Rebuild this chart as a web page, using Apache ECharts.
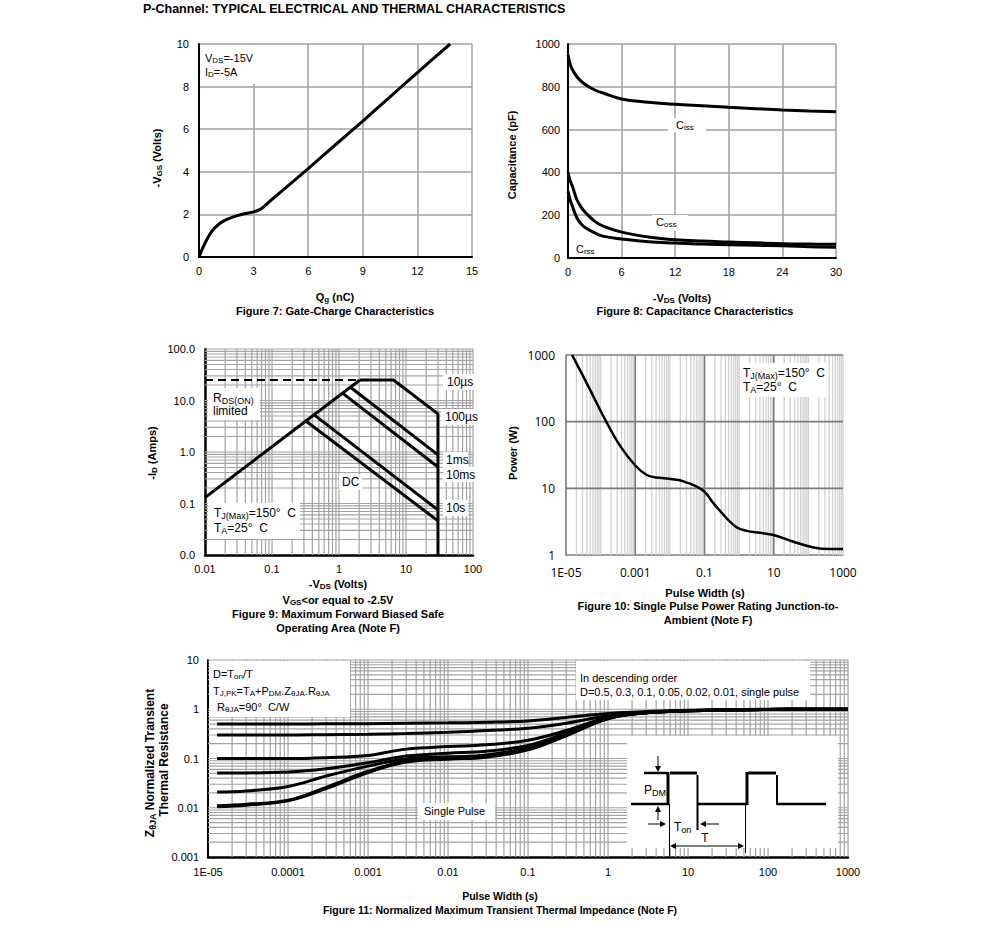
<!DOCTYPE html>
<html><head><meta charset="utf-8">
<script src="https://cdn.jsdelivr.net/npm/echarts@6/dist/echarts.min.js"></script>
<style>html,body{margin:0;padding:0;background:#fff}#c{width:991px;height:938px}</style>
</head><body><div id="c"></div>
<script>
// ---------------- DATA ----------------
// Figure 7: Gate charge
const fig7Qg  = [0, 0.3, 0.7, 1.1, 1.5, 2.0, 2.5, 3.0, 3.4, 4.0, 5.0, 6.0, 7.5, 9.0, 10.5, 12.0, 13.8];
const fig7Vgs = [0, 0.6, 1.2, 1.55, 1.75, 1.92, 2.03, 2.12, 2.25, 2.7, 3.42, 4.15, 5.27, 6.38, 7.52, 8.66, 10];
// Figure 8: Capacitance
const fig8Vds  = [0, 0.25, 0.5, 1, 1.5, 2, 3, 4, 6, 9, 12, 15, 18, 21, 24, 27, 30];
const fig8Ciss = [950, 905, 880, 847, 825, 809, 785, 770, 743, 728, 718, 711, 704, 698, 692, 687, 683];
const fig8Coss = [400, 360, 334, 272, 235, 210, 171, 148, 121, 98, 85, 79, 75, 71, 67, 65, 64];
const fig8Crss = [311, 270, 241, 187, 158, 140, 117, 101, 89, 76, 70, 65, 62, 59, 57, 53, 50];
// Figure 9: Safe operating area
const fig9RdsV   = [0.01, 2.05];  const fig9RdsI   = [0.13, 25];
const fig9LimV   = [0.01, 2.05];  const fig9LimI   = [25, 25];
const fig9Us10V  = [2.05, 6.5, 30, 30]; const fig9Us10I = [25, 25, 5.5, 0.01];
const fig9Us100V = [1.45, 30];    const fig9Us100I = [18.5, 0.88];
const fig9Ms1V   = [1.1, 30];     const fig9Ms1I   = [14.2, 0.51];
const fig9Ms10V  = [0.43, 30];    const fig9Ms10I  = [5.2, 0.075];
const fig9DcV    = [0.32, 30];    const fig9DcI    = [4.0, 0.046];
const fig9XTicks = ['0.01','0.1','1','10','100'];
const fig9YTicks = ['0.0','0.1','1.0','10.0','100.0'];
// Figure 10: Single pulse power
const fig10T = [1.5e-5, 4e-5, 1.45e-4, 3.7e-4, 1e-3, 2.1e-3, 4e-3, 8e-3, 0.018, 0.031, 0.048, 0.1, 0.18, 0.44, 0.85, 1.66, 4, 9.8, 37, 140, 420, 1000];
const fig10P = [1000, 375, 100, 43, 22, 16, 14.5, 14.1, 13.3, 12.2, 11.2, 8.9, 6.0, 3.55, 2.6, 2.3, 2.15, 2.0, 1.58, 1.3, 1.23, 1.23];
const fig10XTicks = ['1E-05','','0.001','','0.1','','10','','1000'];
const fig10YTicks = ['1','10','100','1000'];
// Figure 11: Transient thermal impedance
const fig11T    = [1.3e-5, 3e-5, 1e-4, 3e-4, 1e-3, 3e-3, 1e-2, 3e-2, 0.1, 0.3, 1, 3, 10, 30, 100, 300, 1000];
const fig11D05  = [0.50, 0.50, 0.50, 0.505, 0.51, 0.52, 0.53, 0.545, 0.58, 0.68, 0.82, 0.90, 0.95, 0.98, 1.0, 1.0, 1.0];
const fig11D03  = [0.30, 0.30, 0.30, 0.305, 0.31, 0.32, 0.34, 0.37, 0.41, 0.52, 0.74, 0.87, 0.94, 0.97, 0.99, 1.0, 1.0];
const fig11D01  = [0.10, 0.10, 0.10, 0.104, 0.115, 0.155, 0.175, 0.19, 0.235, 0.37, 0.68, 0.85, 0.93, 0.97, 0.99, 1.0, 1.0];
const fig11D005 = [0.051, 0.051, 0.053, 0.062, 0.082, 0.112, 0.128, 0.14, 0.185, 0.33, 0.67, 0.85, 0.93, 0.97, 0.99, 1.0, 1.0];
const fig11D002 = [0.021, 0.022, 0.027, 0.044, 0.07, 0.098, 0.108, 0.118, 0.165, 0.31, 0.66, 0.85, 0.93, 0.97, 0.99, 1.0, 1.0];
const fig11D001 = [0.011, 0.0118, 0.0142, 0.026, 0.055, 0.088, 0.1, 0.11, 0.155, 0.30, 0.65, 0.85, 0.93, 0.97, 0.99, 1.0, 1.0];
const fig11Single = [0.0105, 0.0113, 0.0138, 0.0245, 0.052, 0.085, 0.097, 0.106, 0.15, 0.29, 0.64, 0.85, 0.93, 0.97, 0.99, 1.0, 1.0];
const fig11XTicks = ['1E-05','0.0001','0.001','0.01','0.1','1','10','100','1000'];
const fig11YTicks = ['0.001','0.01','0.1','1','10'];

// ---------------- HELPERS ----------------
const F = "'Liberation Sans', Arial, sans-serif";
const F10 = "'Open Sans', sans-serif";
const zip = (xs, ys) => xs.map((x, i) => [x, ys[i]]);
const logLabel = (arr, minExp) => v => { const e = Math.round(Math.log10(v)); const s = arr[e - minExp]; return s === undefined ? '' : s; };
function logValues(a, b) { const out = []; for (let e = a; e < b; e++) for (let k = 1; k <= 9; k++) out.push(k * Math.pow(10, e)); out.push(Math.pow(10, b)); return out; }
function gridLines(xa, xb, ya, yb, kindX, kindY) {
  const xmin = Math.pow(10, xa), xmax = Math.pow(10, xb), ymin = Math.pow(10, ya), ymax = Math.pow(10, yb);
  const out = [];
  logValues(xa, xb).forEach(v => { const k = kindX(v); if (k >= 0) out.push([v, ymin, v, ymax, k]); });
  logValues(ya, yb).forEach(v => { const k = kindY(v); if (k >= 0) out.push([xmin, v, xmax, v, k]); });
  return out;
}
const GL = [ {c:'#a3a3a3', w:1.2}, {c:'#7a7a7a', w:1.6}, {c:'#d2d2d2', w:1.3} ];
function renderGridLine(params, api) {
  const p1 = api.coord([api.value(0), api.value(1)]);
  const p2 = api.coord([api.value(2), api.value(3)]);
  const s = GL[api.value(4)];
  return { type:'line', shape:{x1:p1[0], y1:p1[1], x2:p2[0], y2:p2[1]}, style:{stroke:s.c, lineWidth:s.w} };
}
const near = (v, t) => Math.abs(Math.log10(v) - Math.log10(t)) < 1e-6;

function rich(fs, bold, fam) {
  const w = bold ? 'bold' : 'normal';
  return {
    n: {fontSize: fs, fontWeight: w, fontFamily: fam || F, fill:'#000'},
    s: {fontSize: Math.round(fs * 0.72), fontWeight: w, fontFamily: fam || F, fill:'#000', padding:[Math.round(fs*0.45),0,0,0]}
  };
}
function T(x, y, text, o) {
  o = o || {};
  const fs = o.fs || 11;
  return { type:'text', x:x, y:y, rotation:o.rot || 0, z:o.z || 30, silent:true,
    style:{ text:text, fill:'#000', fontFamily:o.fam || F, fontSize:fs, fontWeight:o.bold ? 'bold' : 'normal',
      align:o.align || 'left', verticalAlign:'middle', rich:rich(fs, o.bold, o.fam) } };
}
const R = (x, y, w, h) => ({ type:'rect', z:20, silent:true, shape:{x:x, y:y, width:w, height:h}, style:{fill:'#fff'} });
const L = (x1, y1, x2, y2, w) => ({ type:'line', z:40, silent:true, shape:{x1:x1, y1:y1, x2:x2, y2:y2}, style:{stroke:'#000', lineWidth:w} });
const P = pts => ({ type:'polygon', z:40, silent:true, shape:{points:pts}, style:{fill:'#000'} });

// ---------------- AXES ----------------
const lab = (margin, fam, fs) => ({ margin:margin, color:'#000', fontFamily:fam || F, fontSize:fs || 11 });
const plain = v => String(v);
const blackLine = w => ({ show:true, onZero:false, lineStyle:{color:'#000', width:w} });
const grayLine = { show:true, onZero:false, lineStyle:{color:'#7a7a7a', width:1.6} };
const graySplit = { show:true, lineStyle:{color:'#a0a0a0', width:1.5} };
const noTick = { show:false };

const xAxis = [
  {gridIndex:0, type:'value', min:0, max:15, interval:3, axisLine:blackLine(2), axisTick:noTick, splitLine:graySplit, axisLabel:Object.assign(lab(8), {formatter:plain})},
  {gridIndex:1, type:'value', min:0, max:30, interval:6, axisLine:blackLine(2), axisTick:noTick, splitLine:graySplit, axisLabel:Object.assign(lab(8), {formatter:plain})},
  {gridIndex:2, type:'log', logBase:10, min:0.01, max:100, splitNumber:4, axisLine:blackLine(2.5), axisTick:noTick, splitLine:{show:false}, axisLabel:Object.assign(lab(8), {formatter:logLabel(fig9XTicks, -2)})},
  {gridIndex:3, type:'log', logBase:10, min:1e-5, max:1000, splitNumber:8, axisLine:grayLine, axisTick:noTick, splitLine:{show:false}, axisLabel:Object.assign(lab(11, F10, 12), {formatter:logLabel(fig10XTicks, -5)})},
  {gridIndex:4, type:'log', logBase:10, min:1e-5, max:1000, splitNumber:8, axisLine:blackLine(2.5), axisTick:noTick, splitLine:{show:false}, axisLabel:Object.assign(lab(9), {formatter:logLabel(fig11XTicks, -5)})}
];
const yAxis = [
  {gridIndex:0, type:'value', min:0, max:10, interval:2, axisLine:blackLine(2), axisTick:noTick, splitLine:graySplit, axisLabel:Object.assign(lab(10), {formatter:plain})},
  {gridIndex:1, type:'value', min:0, max:1000, interval:200, axisLine:blackLine(2), axisTick:noTick, splitLine:graySplit, axisLabel:Object.assign(lab(8), {formatter:plain})},
  {gridIndex:2, type:'log', logBase:10, min:0.01, max:100, splitNumber:4, axisLine:blackLine(2.5), axisTick:noTick, splitLine:{show:false}, axisLabel:Object.assign(lab(10), {formatter:logLabel(fig9YTicks, -2)})},
  {gridIndex:3, type:'log', logBase:10, min:1, max:1000, splitNumber:3, axisLine:grayLine, axisTick:noTick, splitLine:{show:false}, axisLabel:Object.assign(lab(11, F10, 12), {formatter:logLabel(fig10YTicks, 0)})},
  {gridIndex:4, type:'log', logBase:10, min:0.001, max:10, splitNumber:4, axisLine:blackLine(2), axisTick:noTick, splitLine:{show:false}, axisLabel:Object.assign(lab(9), {formatter:logLabel(fig11YTicks, -3)})}
];

// ---------------- SERIES ----------------
function curve(g, data, o) {
  o = o || {};
  return { type:'line', xAxisIndex:g, yAxisIndex:g, data:data, showSymbol:false, symbol:'none', smooth:o.smooth || false,
    z:10, silent:true, animation:false, lineStyle:{color:'#000', width:o.w || 3, type:o.type || 'solid', cap:'butt'} };
}
function gridSeries(g, data) {
  return { type:'custom', xAxisIndex:g, yAxisIndex:g, data:data, encode:{x:[0,2], y:[1,3]}, renderItem:renderGridLine,
    z:1, silent:true, animation:false, clip:false };
}
const series = [
  gridSeries(2, gridLines(-2, 2, -2, 2, v => near(v, 0.01) ? -1 : 0, v => near(v, 0.01) ? -1 : 0)),
  gridSeries(3, gridLines(-5, 3, 0, 3,
      v => near(v, 1e-5) ? -1 : ((near(v, 1e-3) || near(v, 0.1) || near(v, 10)) ? 1 : 2),
      v => (near(v, 10) || near(v, 100) || near(v, 1000)) ? 1 : -1)),
  gridSeries(4, gridLines(-5, 3, -3, 1, v => near(v, 1e-5) ? -1 : 0, v => near(v, 0.001) ? -1 : 0)),

  curve(0, zip(fig7Qg, fig7Vgs), {smooth:0.3}),

  curve(1, zip(fig8Vds, fig8Ciss), {smooth:0.4}),
  curve(1, zip(fig8Vds, fig8Coss), {smooth:0.4}),
  curve(1, zip(fig8Vds, fig8Crss), {smooth:0.4}),

  curve(2, zip(fig9RdsV, fig9RdsI), {w:3}),
  curve(2, zip(fig9LimV, fig9LimI), {w:2, type:[8,5]}),
  curve(2, zip(fig9Us10V, fig9Us10I), {w:3}),
  curve(2, zip(fig9Us100V, fig9Us100I), {w:3}),
  curve(2, zip(fig9Ms1V, fig9Ms1I), {w:3}),
  curve(2, zip(fig9Ms10V, fig9Ms10I), {w:3}),
  curve(2, zip(fig9DcV, fig9DcI), {w:3}),

  curve(3, zip(fig10T, fig10P), {smooth:0.4, w:2.5}),

  curve(4, zip(fig11T, fig11D05), {smooth:0.4}),
  curve(4, zip(fig11T, fig11D03), {smooth:0.4}),
  curve(4, zip(fig11T, fig11D01), {smooth:0.4}),
  curve(4, zip(fig11T, fig11D005), {smooth:0.4}),
  curve(4, zip(fig11T, fig11D002), {smooth:0.4}),
  curve(4, zip(fig11T, fig11D001), {smooth:0.4}),
  curve(4, zip(fig11T, fig11Single), {smooth:0.4})
];

// ---------------- TEXT & DECORATION ----------------
const graphic = [
  T(143, 9, 'P-Channel: TYPICAL ELECTRICAL AND THERMAL CHARACTERISTICS', {bold:true, fs:12.5}),
  // Figure 7
  R(200, 45, 64, 39),
  T(205, 58, '{n|V}{s|DS}{n|=-15V}'), T(205, 72, '{n|I}{s|D}{n|=-5A}'),
  T(157, 158, '{n|-V}{s|GS}{n| (Volts)}', {bold:true, rot:Math.PI/2, align:'center'}),
  T(335, 297, '{n|Q}{s|g}{n| (nC)}', {bold:true, align:'center'}),
  T(335, 311, 'Figure 7: Gate-Charge Characteristics', {bold:true, align:'center'}),
  // Figure 8
  R(668, 118, 38, 14), R(652, 215, 36, 16),
  T(676, 125, '{n|C}{s|iss}'), T(656, 222, '{n|C}{s|oss}'), T(576, 249, '{n|C}{s|rss}'),
  T(512, 155, 'Capacitance (pF)', {bold:true, rot:Math.PI/2, align:'center'}),
  T(682, 298, '{n|-V}{s|DS}{n| (Volts)}', {bold:true, align:'center'}),
  T(695, 311, 'Figure 8: Capacitance Characteristics', {bold:true, align:'center'}),
  // Figure 9
  R(208, 388, 52, 32), R(208, 503, 92, 36),
  R(443, 374, 31, 16), R(441, 409, 34, 16), R(443, 452, 25, 15), R(443, 467, 31, 15), R(443, 500, 25, 16), R(339, 474, 23, 16),
  T(213, 398, '{n|R}{s|DS(ON)}', {fs:12}), T(213, 411, 'limited', {fs:12}),
  T(447, 382, '10µs', {fs:12}), T(445, 417, '100µs', {fs:12}), T(446, 460, '1ms', {fs:12}), T(446, 475, '10ms', {fs:12}),
  T(342, 482, 'DC', {fs:12}), T(446, 508, '10s', {fs:12}),
  T(214, 513, '{n|T}{s|J(Max)}{n|=150°  C}', {fs:12}), T(214, 528, '{n|T}{s|A}{n|=25°  C}', {fs:12}),
  T(152, 453, '{n|-I}{s|D}{n| (Amps)}', {bold:true, rot:Math.PI/2, align:'center'}),
  T(338, 584, '{n|-V}{s|DS}{n| (Volts)}', {bold:true, align:'center'}),
  T(338, 600, '{n|V}{s|GS}{n|<or equal to -2.5V}', {bold:true, align:'center'}),
  T(338, 614, 'Figure 9: Maximum Forward Biased Safe', {bold:true, align:'center'}),
  T(338, 628, 'Operating Area (Note F)', {bold:true, align:'center'}),
  // Figure 10
  R(740, 363, 86, 34),
  T(743, 373, '{n|T}{s|J(Max)}{n|=150°  C}', {fs:12}), T(743, 387, '{n|T}{s|A}{n|=25°  C}', {fs:12}),
  T(513, 453, 'Power (W)', {bold:true, rot:Math.PI/2, align:'center'}),
  T(705, 593, 'Pulse Width (s)', {bold:true, align:'center'}),
  T(708, 606, 'Figure 10: Single Pulse Power Rating Junction-to-', {bold:true, align:'center'}),
  T(708, 620, 'Ambient (Note F)', {bold:true, align:'center'}),
  // Figure 11
  R(209, 661, 141, 56), R(576, 661, 234, 39), R(418, 803, 77, 17), R(627, 736, 211, 112),
  T(213, 674, '{n|D=T}{s|on}{n|/T}'),
  T(213, 691, '{n|T}{s|J,PK}{n|=T}{s|A}{n|+P}{s|DM}{n|.Z}{s|θJA}{n|.R}{s|θJA}'),
  T(217, 707, '{n|R}{s|θJA}{n|=90°  C/W}'),
  T(580, 678, 'In descending order'),
  T(580, 692, 'D=0.5, 0.3, 0.1, 0.05, 0.02, 0.01, single pulse'),
  T(424, 811, 'Single Pulse'),
  T(150, 763, '{n|Z}{s|θJA}{n| Normalized Transient}', {bold:true, rot:Math.PI/2, align:'center', fs:12}),
  T(164, 760, 'Thermal Resistance', {bold:true, rot:Math.PI/2, align:'center', fs:12}),
  T(500, 896, 'Pulse Width (s)', {bold:true, align:'center', fs:10.5}),
  T(500, 910, 'Figure 11: Normalized Maximum Transient Thermal Impedance (Note F)', {bold:true, align:'center', fs:10.5}),
  // inset pulse schematic
  L(631, 804, 669, 804, 2.5), L(644, 773, 668, 773, 2.5),
  L(668, 805, 668, 772, 3), L(670, 773, 697, 773, 3), L(697.5, 775, 697.5, 830, 2),
  L(697, 804, 747, 804, 2.5), L(747, 805, 747, 772, 3), L(748, 773, 776, 773, 3), L(777, 775, 777, 805, 2),
  L(777, 804, 826, 804, 2.5),
  L(669.5, 804, 669.5, 857, 1), L(745.5, 804, 745.5, 853, 1),
  L(658, 756, 658, 767, 1), P([[655,766],[661,766],[658,772]]),
  L(658, 820, 658, 812, 1), P([[655,812],[661,812],[658,806]]),
  L(648, 824, 661, 824, 1), P([[660,821],[660,827],[666,824]]),
  L(719, 824, 705, 824, 1), P([[706,821],[706,827],[700,824]]),
  L(675, 846, 739, 846, 1), P([[676,843],[676,849],[670,846]]), P([[738,843],[738,849],[744,846]]),
  T(644, 790, '{n|P}{s|DM}', {fs:12}), T(674, 827, '{n|T}{s|on}', {fs:12}), T(705, 838, 'T', {fs:12, align:'center'})
];

const chart = echarts.init(document.getElementById('c'), null, {renderer:'svg', width:991, height:938});
chart.setOption({
  animation:false,
  backgroundColor:'#fff',
  grid:[
    {left:199, top:44, width:273, height:213},
    {left:568, top:44, width:268, height:214},
    {left:205, top:349, width:268, height:206},
    {left:566, top:355, width:277, height:200},
    {left:208, top:660, width:640, height:197}
  ],
  xAxis:xAxis, yAxis:yAxis, series:series, graphic:graphic
});
</script></body></html>
